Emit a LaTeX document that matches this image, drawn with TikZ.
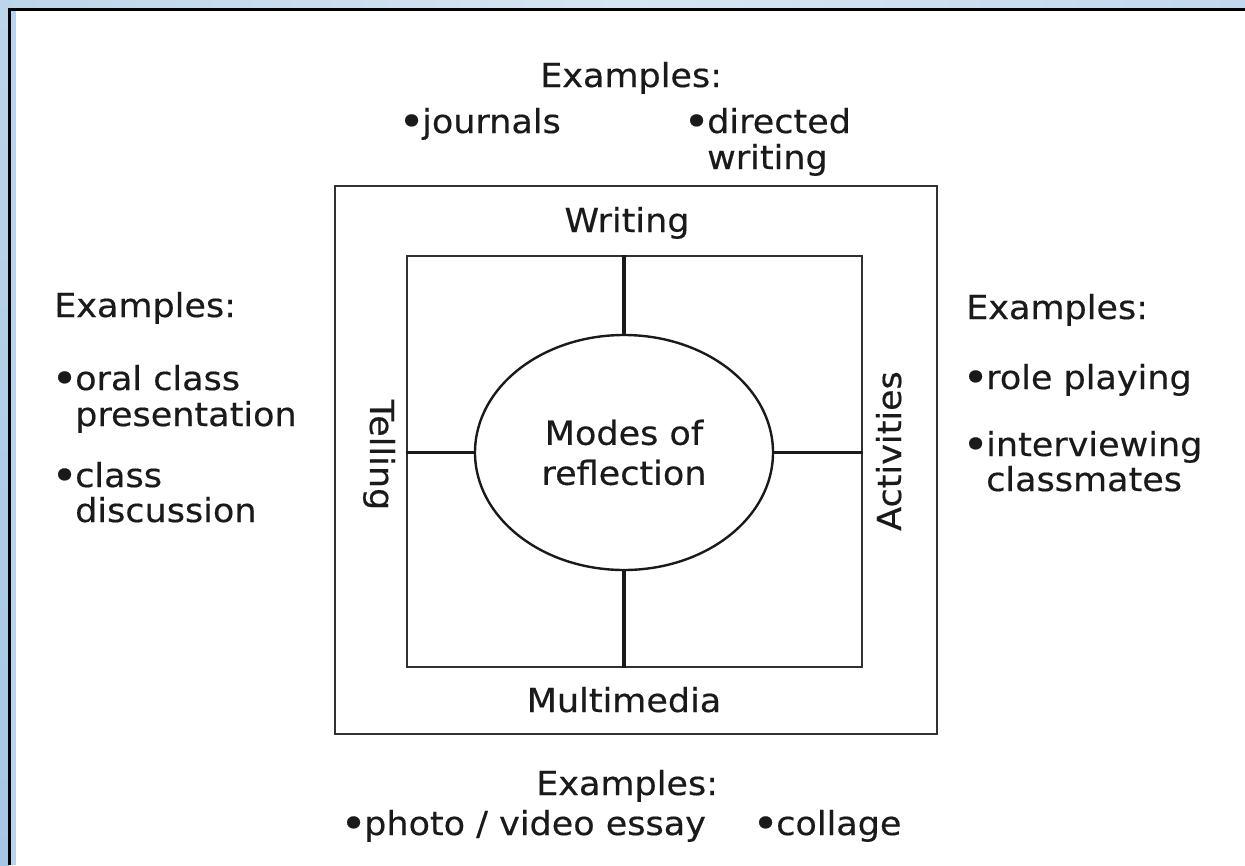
\documentclass[tikz,border=0pt]{standalone}
\usepackage{fontspec}
\setmainfont[FakeStretch=1.06,FakeBold=0.4]{DejaVu Sans}
\usetikzlibrary{shapes.geometric}
\definecolor{bandA}{HTML}{BDD5EA}
\definecolor{bandB}{HTML}{D6E5F3}
\definecolor{bandC}{HTML}{C2D8EE}
\definecolor{bandD}{HTML}{A5C6E5}
\definecolor{stripc}{HTML}{BAD3EC}
\definecolor{ink}{HTML}{1A1A1A}
\newcommand\mybul{\llap{\raisebox{-3pt}{\fontsize{42}{42}\selectfont •}\kern-2.5pt}}
\begin{document}
\begin{tikzpicture}[x=1pt,y=-1pt,
  txt/.style={anchor=base west, inner sep=0pt, text=ink, font=\fontsize{33}{35}\selectfont},
  lbl/.style={inner sep=0pt, text=ink, font=\fontsize{33}{35}\selectfont},
  box/.style={draw=ink!90, line width=2.8pt, rectangle, inner sep=0pt},
  oval/.style={draw=ink, line width=2.4pt, ellipse, inner sep=0pt, align=center, text=ink, font=\fontsize{33}{40}\selectfont},
  conn/.style={draw=ink, line width=3.2pt}]
\useasboundingbox (0,0) rectangle (1245,865);
% frame
\shade[left color=bandA, right color=bandC, middle color=bandB] (0,0) rectangle (1245,9);
\shade[top color=bandA, bottom color=bandD] (0,0) rectangle (9,865);
\fill[white] (11,11) rectangle (1245,865);
\fill[stripc] (11,11) rectangle (16,865);
\draw[black, line width=3pt] (9.5,865) -- (9.5,9.5) -- (1245,9.5);
% boxes
\node[box, minimum width=602pt, minimum height=548pt] (outer) at (636,460) {};
\node[box, minimum width=455pt, minimum height=411pt] (inner) at (634.5,461.5) {};
\node[oval, minimum width=298pt, minimum height=235pt] (ell) at (624,452.5) {Modes of\\reflection};
% connectors
\draw[conn] (ell.north |- inner.north) -- (ell.north);
\draw[conn] (ell.south) -- (ell.south |- inner.south);
\draw[conn] (inner.west |- ell.west) -- (ell.west);
\draw[conn] (ell.east) -- (ell.east -| inner.east);
% box labels
\node[lbl, anchor=base] (writing) at (627,232) {Writing};
\node[lbl, anchor=base] (multi) at (624,712) {Multimedia};
\node[lbl, anchor=base, rotate=-90] (telling) at (370,455) {Telling};
\node[lbl, anchor=base, rotate=90] (activ) at (901,451) {Activities};
% top examples
\node[txt] (ta) at (540,87) {Examples:};
\node[txt] (tb) at (422,133) {\mybul journals};
\node[txt] (tc) at (707,133) {\mybul directed};
\node[txt] (td) at (707,169) {writing};
% left examples
\node[txt] (la) at (54,317) {Examples:};
\node[txt] (lb) at (75,390) {\mybul oral class};
\node[txt] (lc) at (75,426) {presentation};
\node[txt] (ld) at (75,487) {\mybul class};
\node[txt] (le) at (75,522) {discussion};
% right examples
\node[txt] (ra) at (966,319) {Examples:};
\node[txt] (rb) at (986,389) {\mybul role playing};
\node[txt] (rc) at (986,456) {\mybul interviewing};
\node[txt] (rd) at (986,491) {classmates};
% bottom examples
\node[txt] (ba) at (536,795) {Examples:};
\node[txt] (bb) at (364,835) {\mybul photo / video essay};
\node[txt] (bc) at (776,835) {\mybul collage};
\end{tikzpicture}
\end{document}
